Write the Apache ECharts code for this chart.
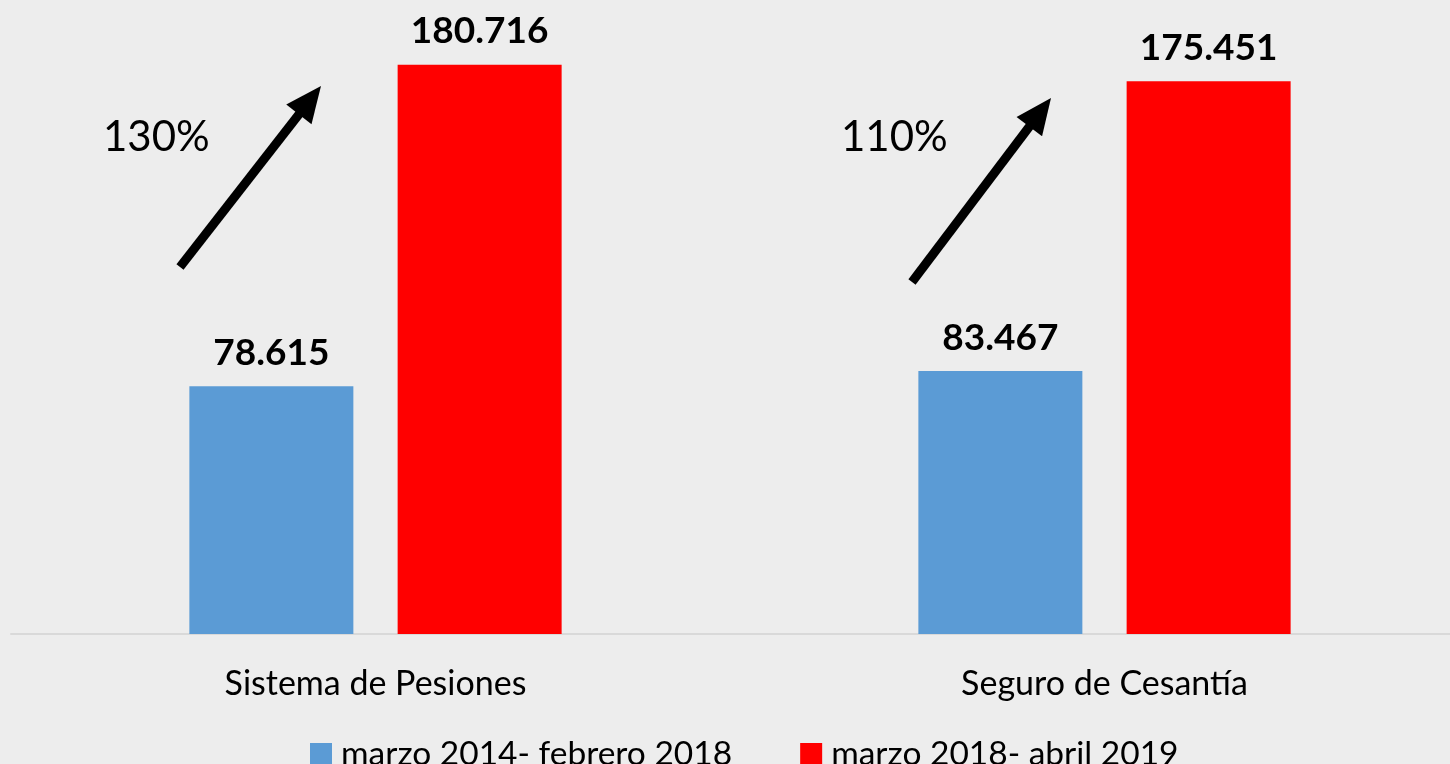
<!DOCTYPE html>
<html>
<head>
<meta charset="utf-8">
<script src="https://cdn.jsdelivr.net/npm/echarts@6/dist/echarts.min.js"></script>
<style>
  html, body { margin: 0; padding: 0; background: #ededed; }
  #chart { width: 1450px; height: 764px; }
</style>
</head>
<body>
<div id="chart"></div>
<script>
// datos
const categorias = ['Sistema de Pesiones', 'Seguro de Cesantía']
const periodo1 = [78.615, 83.467]
const periodo2 = [180.716, 175.451]
const nombres = ['marzo 2014- febrero 2018', 'marzo 2018- abril 2019']
const crecimiento = ['130%', '110%']

const FONT = 'Lato'

// flecha: linea + punta
function arrow (tail, tip) {
  let dx = tip[0] - tail[0]
  let dy = tip[1] - tail[1]
  let len = Math.sqrt(dx * dx + dy * dy)
  let ux = dx / len
  let uy = dy / len
  let head = 36
  let half = 16
  let bx = tip[0] - ux * head
  let by = tip[1] - uy * head
  return [
    {
      type: 'line',
      shape: { x1: tail[0], y1: tail[1], x2: bx + ux * 4, y2: by + uy * 4 },
      style: { stroke: '#000', lineWidth: 9 }
    },
    {
      type: 'polygon',
      shape: { points: [tip, [bx - uy * half, by + ux * half], [bx + uy * half, by - ux * half]] },
      style: { fill: '#000' }
    }
  ]
}

const chart = echarts.init(document.getElementById('chart'))

const valueLabel = {
  show: true,
  position: 'top',
  distance: 15,
  color: '#000',
  fontFamily: FONT,
  fontWeight: 'bold',
  fontSize: 37,
  formatter: p => p.value.toFixed(3)
}

chart.setOption({
  backgroundColor: '#ededed',
  animation: false,
  grid: { left: 11, top: 4, width: 1458, bottom: 130, outerBoundsMode: 'none', containLabel: false },
  legend: {
    left: 310,
    top: 737,
    padding: 0,
    itemWidth: 22,
    itemHeight: 22,
    itemGap: 68,
    icon: 'rect',
    textStyle: { fontFamily: FONT, fontSize: 33.5, color: '#000', padding: [0, 0, 0, 4] },
    data: nombres
  },
  xAxis: {
    type: 'category',
    data: categorias,
    axisTick: { show: false },
    axisLine: { lineStyle: { color: '#d9d9d9', width: 2 } },
    axisLabel: { color: '#000', fontFamily: FONT, fontSize: 34, margin: 33 }
  },
  yAxis: {
    type: 'value',
    min: 0,
    max: 200,
    show: false,
    splitLine: { show: false }
  },
  series: [
    {
      name: nombres[0],
      type: 'bar',
      barWidth: 164,
      barGap: '27%',
      itemStyle: { color: '#5b9bd5' },
      label: valueLabel,
      data: periodo1
    },
    {
      name: nombres[1],
      type: 'bar',
      barWidth: 164,
      itemStyle: { color: '#ff0000' },
      label: valueLabel,
      data: periodo2
    }
  ],
  graphic: [
    ...arrow([180, 267], [321, 86]),
    ...arrow([912, 282], [1051, 98]),
    {
      type: 'text',
      left: 103,
      top: 116,
      style: { text: crecimiento[0], fontFamily: FONT, fontSize: 42, fill: '#000' }
    },
    {
      type: 'text',
      left: 841,
      top: 116,
      style: { text: crecimiento[1], fontFamily: FONT, fontSize: 42, fill: '#000' }
    }
  ]
})
</script>
</body>
</html>
